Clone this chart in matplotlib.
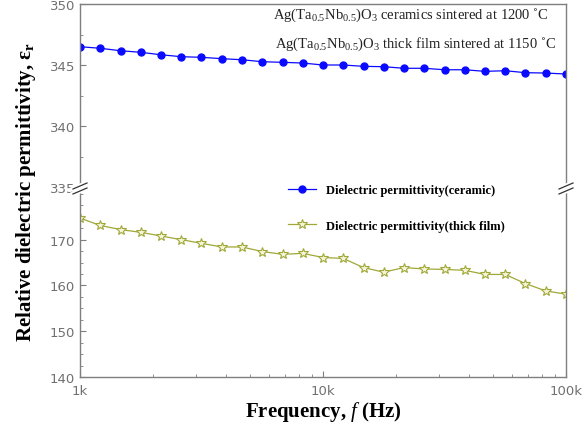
import numpy as np
import matplotlib
matplotlib.use('Agg')
import matplotlib.pyplot as plt
import matplotlib.ticker as ticker

#
# Data
#

freq = [1000, 1212, 1468, 1778, 2154, 2610, 3162, 3831, 4642, 5623, 6813, 8254,
        10000, 12115, 14678, 17783, 21544, 26102, 31623, 38312, 46416, 56234,
        68129, 82540, 100000]

eps_ceramic = [346.50, 346.37, 346.17, 346.04, 345.84, 345.68, 345.63, 345.52,
               345.43, 345.27, 345.22, 345.16, 345.00, 345.00, 344.89, 344.86,
               344.73, 344.73, 344.61, 344.61, 344.48, 344.53, 344.37, 344.34,
               344.26]

eps_film = [174.7, 173.1, 172.2, 171.6, 170.8, 170.0, 169.2, 168.4, 168.4,
            167.4, 166.8, 167.0, 166.1, 165.9, 163.9, 162.9, 163.9, 163.6,
            163.5, 163.3, 162.4, 162.4, 160.4, 158.8, 158.1]

top_ticks = [335, 340, 345, 350]
bottom_ticks = [140, 150, 160, 170]

#
# Figure
#

blue = '#0a0aff'
olive = '#a0a838'
frame = '#7f7f7f'
label_col = '#707070'

plt.rcParams['font.family'] = ['DejaVu Sans']
plt.rcParams['mathtext.fontset'] = 'custom'
plt.rcParams['mathtext.rm'] = 'Liberation Serif'
plt.rcParams['mathtext.it'] = 'Liberation Serif:italic'
plt.rcParams['mathtext.bf'] = 'Liberation Serif:bold'

fig = plt.figure(figsize=(5.84, 4.27), dpi=100)
left, right = 80 / 584, 566 / 584
y_top, y_break, y_bot = 1 - 5 / 427, 1 - 188 / 427, 1 - 378 / 427
ax_top = fig.add_axes([left, y_break, right - left, y_top - y_break])
ax_bot = fig.add_axes([left, y_bot, right - left, y_break - y_bot])

ax_top.plot(freq, eps_ceramic, '-o', color=blue, lw=0.9, ms=5,
            label='Dielectric permittivity(ceramic)')
ax_bot.plot(freq, eps_film, '-*', color=olive, lw=0.9, ms=7,
            mfc='#f4f4d8', mec=olive, mew=0.8,
            label='Dielectric permittivity(thick film)')
# dummy handle so both series appear in the lower legend
ax_bot.plot([], [], '-o', color=blue, lw=0.9, ms=5,
            label='Dielectric permittivity(ceramic)')

for ax in (ax_top, ax_bot):
    ax.set_xscale('log')
    ax.set_xlim(1000, 100000)
    for s in ax.spines.values():
        s.set_color(frame)
        s.set_linewidth(1.0)
    ax.tick_params(axis='both', which='both', direction='in', colors=frame,
                   labelcolor=label_col, labelsize=9.5, right=False, top=False)
    ax.tick_params(which='major', length=4)
    ax.tick_params(which='minor', length=2)

ax_top.set_ylim(335, 350)
ax_top.set_yticks(top_ticks)
ax_top.yaxis.set_minor_locator(ticker.MultipleLocator(2.5))
ax_top.spines['bottom'].set_visible(False)
ax_top.tick_params(axis='x', which='both', bottom=False, labelbottom=False)

ax_bot.set_ylim(140, 181.5)
ax_bot.set_yticks(bottom_ticks)
ax_bot.yaxis.set_minor_locator(ticker.MultipleLocator(2.5))
ax_bot.spines['top'].set_visible(False)
ax_bot.xaxis.set_major_locator(ticker.FixedLocator([1e3, 1e4, 1e5]))
ax_bot.xaxis.set_major_formatter(ticker.FixedFormatter(['1k', '10k', '100k']))
ax_bot.xaxis.set_minor_locator(ticker.LogLocator(base=10, subs=np.arange(2, 10)))
ax_bot.xaxis.set_minor_formatter(ticker.NullFormatter())
ax_bot.tick_params(axis='x', pad=5)

# break marks on both spines
for xf in (left, right):
    for col, lw in (('white', 3.5), ('#333333', 0.9)):
        for dy in (-4, 1):
            yb = y_break + dy / 427
            fig.add_artist(plt.Line2D([xf - 7 / 584, xf + 7 / 584],
                                      [yb - 3 / 427, yb + 3 / 427],
                                      color=col, lw=lw, transform=fig.transFigure))

# annotations
serif = ['Liberation Serif', 'DejaVu Serif']
ax_top.text(0.965, 0.945,
            'Ag(Ta$_{0.5}$Nb$_{0.5}$)O$_3$ ceramics sintered at 1200 ˚C',
            transform=ax_top.transAxes, family=serif, fontsize=10.5,
            ha='right', va='center', color='#222222')
ax_top.text(0.98, 0.785,
            'Ag(Ta$_{0.5}$Nb$_{0.5}$)O$_3$ thick film sintered at 1150 ˚C',
            transform=ax_top.transAxes, family=serif, fontsize=10.5,
            ha='right', va='center', color='#222222')

handles, labels = ax_bot.get_legend_handles_labels()
leg = ax_bot.legend([handles[1], handles[0]], [labels[1], labels[0]],
                    loc='upper left', bbox_to_anchor=(0.405, 1.075), frameon=False,
                    prop={'family': 'Liberation Serif', 'weight': 'bold', 'size': 9},
                    handlelength=2.2, labelspacing=1.9)

fig.text(0.045, (y_top + y_bot) / 2, 'Relative dielectric permittivity, ε$_\\mathregular{r}$',
         rotation=90, ha='center', va='center', family=serif,
         fontweight='bold', fontsize=15)
fig.text((left + right) / 2, 1 - 412 / 427, 'Frequency, $\\mathit{f}$ (Hz)',
         ha='center', va='center', family=serif, fontweight='bold', fontsize=15)

plt.savefig('out.png', dpi=100)
